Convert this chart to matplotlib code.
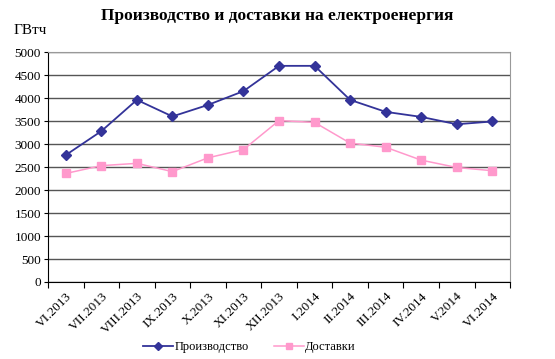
import matplotlib.pyplot as plt

# Data
months = ['VI.2013', 'VII.2013', 'VIII.2013', 'IX.2013', 'X.2013', 'XI.2013', 'XII.2013',
          'I.2014', 'II.2014', 'III.2014', 'IV.2014', 'V.2014', 'VI.2014']
production = [2760, 3280, 3960, 3600, 3850, 4150, 4700, 4700, 3960, 3700, 3590, 3430, 3490]
deliveries = [2360, 2530, 2580, 2400, 2700, 2880, 3510, 3470, 3020, 2930, 2650, 2490, 2420]

plt.rcParams['font.family'] = ['Liberation Serif', 'DejaVu Serif']

fig = plt.figure(figsize=(5.55, 3.59), dpi=100)
ax = fig.add_axes([0.0865, 0.2145, 0.8325, 0.6405])

x = range(len(months))
ax.plot(x, production, color='#333399', lw=1.3, marker='D', ms=5, label='Производство')
ax.plot(x, deliveries, color='#FF99CC', lw=1.1, marker='s', ms=5.5, label='Доставки')

ax.set_xlim(-0.5, len(months) - 0.5)
ax.set_ylim(0, 5000)
ax.set_yticks(range(0, 5001, 500))
ax.tick_params(axis='y', labelsize=9.5, length=3, pad=2)
ax.yaxis.grid(True, color='#555555', lw=1)
ax.set_axisbelow(True)

ax.set_xticks([i - 0.5 for i in range(len(months) + 1)])
ax.set_xticklabels([])
ax.set_xticks(list(x), minor=True)
ax.set_xticklabels(months, minor=True, rotation=45, ha='right', va='top',
                   rotation_mode='anchor', fontsize=9.5)
ax.tick_params(axis='x', which='major', length=4, direction='out')
ax.tick_params(axis='x', which='minor', length=0, pad=6)

for side in ['top', 'right']:
    ax.spines[side].set_color('#999999')
ax.spines['left'].set_color('black')
ax.spines['bottom'].set_color('black')

fig.text(0.5, 0.955, 'Производство и доставки на електроенергия', ha='center', va='center',
         fontsize=12.5, fontweight='bold')
fig.text(0.025, 0.915, 'ГВтч', ha='left', va='center', fontsize=11)

fig.legend(loc='center', bbox_to_anchor=(0.449, 0.033), ncol=2, frameon=False,
           fontsize=9, handlelength=2.4, handletextpad=0.1, columnspacing=2.0,
           markerscale=0.8)

fig.savefig('out.png', dpi=100)
